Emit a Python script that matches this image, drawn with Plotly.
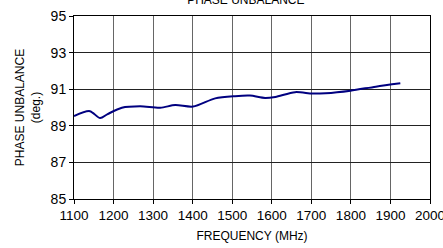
import plotly.graph_objects as go

freq = [1100, 1140, 1166, 1185, 1221, 1267, 1318, 1356, 1401, 1457, 1507, 1545, 1583, 1609, 1659, 1703, 1736, 1799, 1863, 1925]
phase = [89.53, 89.8, 89.42, 89.64, 89.99, 90.07, 89.99, 90.13, 90.05, 90.5, 90.62, 90.65, 90.52, 90.58, 90.84, 90.76, 90.78, 90.92, 91.14, 91.32]
x_ticks = [1100, 1200, 1300, 1400, 1500, 1600, 1700, 1800, 1900, 2000]
y_ticks = [85, 87, 89, 91, 93, 95]

fig = go.Figure(go.Scatter(x=freq, y=phase, mode="lines",
                           line=dict(color="#000080", width=2, shape="spline", smoothing=0.8)))

font = dict(family="Liberation Sans, Arial", size=13.5, color="#000")
fig.update_layout(
    width=443, height=248,
    margin=dict(l=74, r=13, t=16, b=49),
    paper_bgcolor="white", plot_bgcolor="white",
    showlegend=False,
    font=font,
    title=dict(text="PHASE UNBALANCE", x=0.555, xanchor="center", y=1.0, yanchor="middle",
               font=dict(family="Liberation Sans, Arial", size=12, color="#000")),
)
fig.update_xaxes(range=[1100, 2000], tickvals=x_ticks, ticks="outside", ticklen=4,
                 tickcolor="#000", showgrid=True, gridcolor="#666", gridwidth=1.2,
                 showline=True, linecolor="#000", linewidth=1, mirror=True,
                 ticklabeloverflow="allow", automargin=False,
                 title=dict(text="FREQUENCY (MHz)", font=dict(size=12), standoff=9),
                 tickfont=dict(size=13.5))
fig.update_yaxes(range=[85, 95], tickvals=y_ticks, ticks="outside", ticklen=4,
                 tickcolor="#000", showgrid=True, gridcolor="#222", gridwidth=1,
                 showline=True, linecolor="#000", linewidth=1, mirror=True,
                 automargin=False,
                 title=dict(text="PHASE UNBALANCE<br>(deg.)", font=dict(size=12), standoff=7),
                 tickfont=dict(size=14))

fig.write_html("out.html", config={"displayModeBar": False},
               post_script="document.body.style.margin='0';")
